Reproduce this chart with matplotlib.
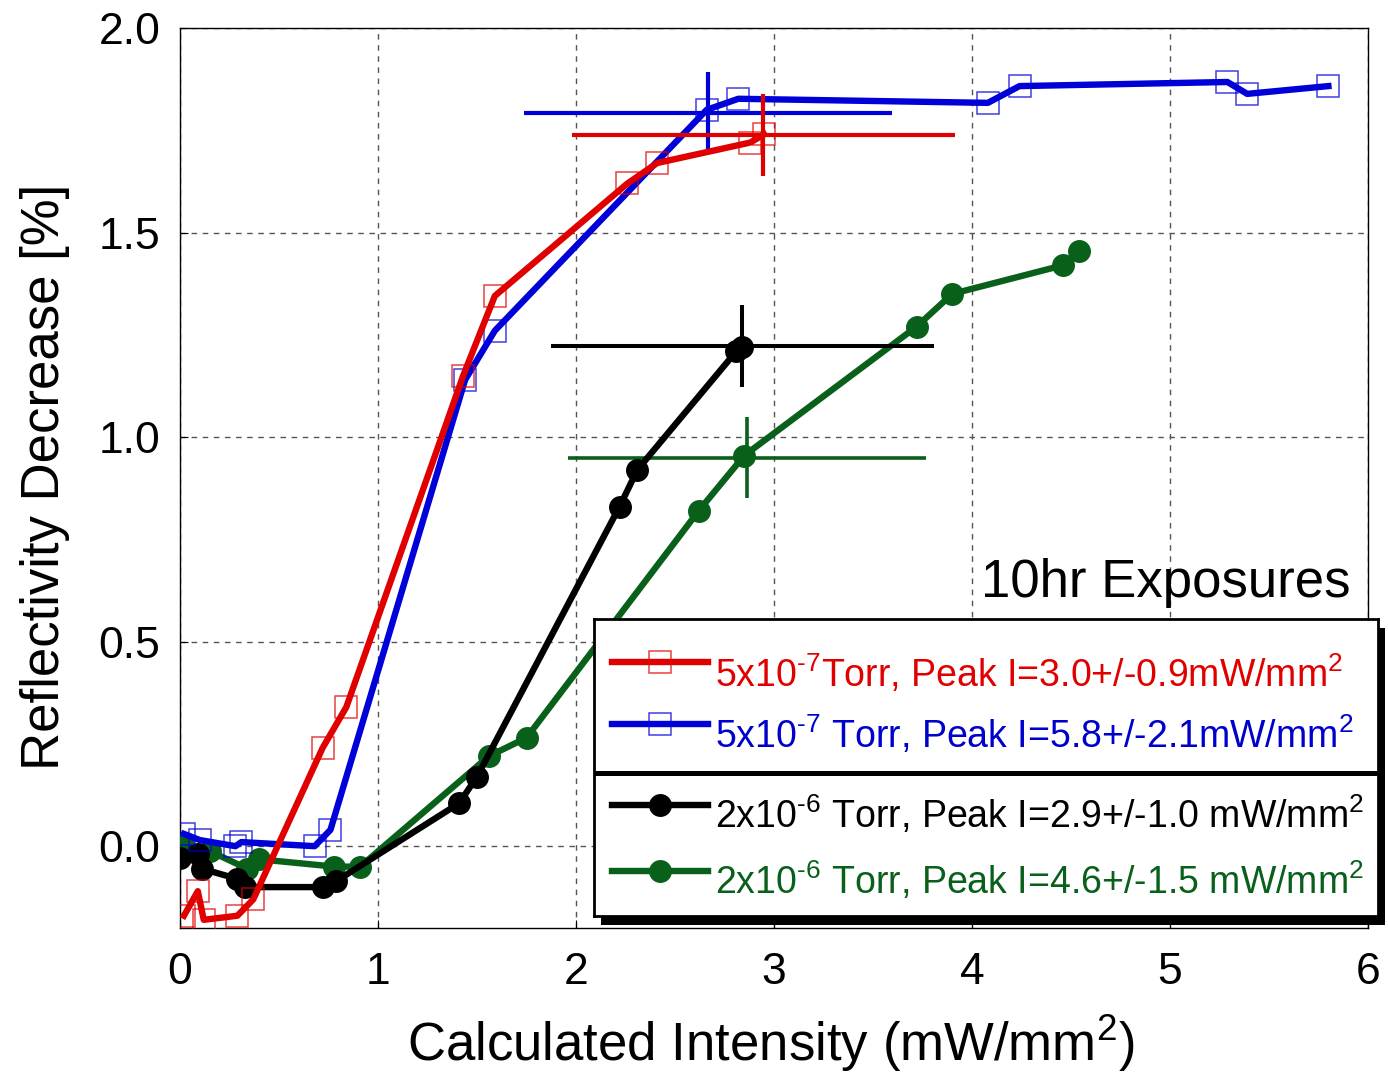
import matplotlib
matplotlib.use('Agg')
import matplotlib.pyplot as plt
from matplotlib.patches import Rectangle
from matplotlib.lines import Line2D

plt.rcParams['font.family'] = ['Liberation Sans', 'DejaVu Sans']
plt.rcParams['mathtext.fontset'] = 'custom'
plt.rcParams['mathtext.rm'] = 'Liberation Sans'
plt.rcParams['mathtext.it'] = 'Liberation Sans:italic'
plt.rcParams['mathtext.bf'] = 'Liberation Sans:bold'

# 5x10^-7 Torr, 3.0 mW/mm2 run
red_x = [0.02, 0.09, 0.12, 0.29, 0.37, 0.72, 0.84, 1.43, 1.59, 2.26, 2.41, 2.88, 2.95]
red_y = [-0.17, -0.11, -0.18, -0.17, -0.13, 0.24, 0.34, 1.15, 1.345, 1.62, 1.67, 1.72, 1.74]

# 5x10^-7 Torr, 5.8 mW/mm2 run
blue_x = [0.02, 0.10, 0.28, 0.31, 0.68, 0.76, 1.44, 1.59, 2.66, 2.82, 4.08, 4.24, 5.29, 5.39, 5.80]
blue_y = [0.03, 0.015, 0.0, 0.01, 0.0, 0.04, 1.14, 1.26, 1.80, 1.827, 1.817, 1.858, 1.868, 1.839, 1.858]

# 2x10^-6 Torr, 2.9 mW/mm2 run
black_x = [0.0, 0.09, 0.11, 0.29, 0.33, 0.72, 0.79, 1.41, 1.50, 2.22, 2.31, 2.81, 2.84]
black_y = [-0.03, -0.02, -0.055, -0.08, -0.10, -0.10, -0.085, 0.105, 0.17, 0.83, 0.92, 1.21, 1.22]

# 2x10^-6 Torr, 4.6 mW/mm2 run
green_x = [0.015, 0.15, 0.34, 0.40, 0.78, 0.91, 1.56, 1.75, 2.62, 2.85, 3.72, 3.90, 4.46, 4.54]
green_y = [0.005, -0.012, -0.055, -0.032, -0.05, -0.05, 0.22, 0.265, 0.82, 0.955, 1.27, 1.35, 1.42, 1.455]

# peak intensity error crosses: x, y, xerr, yerr
red_err = [2.945, 1.739, 0.967, 0.10]
blue_err = [2.667, 1.792, 0.93, 0.10]
black_err = [2.84, 1.223, 0.967, 0.10]
green_err = [2.864, 0.95, 0.906, 0.10]

legend_labels = [
    r'5x10$^{\mathrm{\text{-}7}}$Torr, Peak I=3.0+/-0.9mW/mm$^{\mathrm{2}}$',
    r'5x10$^{\mathrm{\text{-}7}}$ Torr, Peak I=5.8+/-2.1mW/mm$^{\mathrm{2}}$',
    r'2x10$^{\mathrm{\text{-}6}}$ Torr, Peak I=2.9+/-1.0 mW/mm$^{\mathrm{2}}$',
    r'2x10$^{\mathrm{\text{-}6}}$ Torr, Peak I=4.6+/-1.5 mW/mm$^{\mathrm{2}}$',
]

RED = '#e00000'
BLUE = '#0000d8'
BLACK = '#000000'
GREEN = '#08601a'
LW = 4.6

fig = plt.figure(figsize=(13.88, 10.73), dpi=100)
ax = fig.add_axes([180/1388, 1-928/1073, 1188/1388, 900/1073])
ax.set_zorder(1)

ax.plot(green_x, green_y, color=GREEN, lw=LW, marker='o', ms=15.5, zorder=3)
ax.plot(black_x, black_y, color=BLACK, lw=LW, marker='o', ms=15.5, zorder=4)
ax.plot(blue_x, blue_y, color=BLUE, lw=LW, zorder=5)
ax.plot(blue_x, blue_y, ls='none', marker='s', ms=16, mfc='none', mec=BLUE, mew=1.1, alpha=0.75, zorder=5)
ax.plot(red_x, red_y, color=RED, lw=LW, zorder=6)
ax.plot(red_x, red_y, ls='none', marker='s', ms=16, mfc='none', mec=RED, mew=1.1, alpha=0.75, zorder=6)

ax.errorbar(green_err[0], green_err[1], xerr=green_err[2], yerr=green_err[3], fmt='none', ecolor=GREEN, elinewidth=2.6, capsize=0, zorder=3)
ax.errorbar(black_err[0], black_err[1], xerr=black_err[2], yerr=black_err[3], fmt='none', ecolor=BLACK, elinewidth=2.9, capsize=0, zorder=4)
ax.errorbar(blue_err[0], blue_err[1], xerr=blue_err[2], yerr=blue_err[3], fmt='none', ecolor=BLUE, elinewidth=3.0, capsize=0, zorder=5)
ax.errorbar(red_err[0], red_err[1], xerr=red_err[2], yerr=red_err[3], fmt='none', ecolor=RED, elinewidth=3.0, capsize=0, zorder=6)

ax.set_xlim(0, 6)
ax.set_ylim(-0.2, 2.0)
ax.set_xticks([0, 1, 2, 3, 4, 5, 6])
ax.set_yticks([0.0, 0.5, 1.0, 1.5, 2.0])
ax.set_yticklabels(['0.0', '0.5', '1.0', '1.5', '2.0'])
ax.grid(True, color='#555555', ls=(0, (4, 4)), lw=1.0)
ax.tick_params(direction='in', length=6, width=0.8, labelsize=32)
ax.tick_params(axis='y', pad=14)
ax.tick_params(axis='x', pad=17)
for s in ax.spines.values():
    s.set_linewidth(1.0)

ax.set_xlabel(r'Calculated Intensity (mW/mm$^{\mathrm{2}}$)', fontsize=38)
ax.set_ylabel('Reflectivity Decrease [%]', fontsize=38)
ax.xaxis.set_label_coords(0.4975, -0.094)
ax.yaxis.set_label_coords(-0.093, 0.501)

ax.text(5.91, 0.61, '10hr Exposures', fontsize=38, ha='right', va='baseline', zorder=7)

# legend box with shadow and divider
box = [594, 619, 1378, 916]
W, H = 1388, 1073
shadow = Rectangle(((box[0]+7)/W, 1-(box[3]+9)/H), (box[2]-box[0])/W, (box[3]-box[1])/H,
                   transform=fig.transFigure, facecolor='black', edgecolor='none', zorder=2)
fig.add_artist(shadow)
lax = fig.add_axes([box[0]/W, 1-box[3]/H, (box[2]-box[0])/W, (box[3]-box[1])/H])
lax.set_zorder(3)
lax.set_xlim(box[0], box[2])
lax.set_ylim(box[3], box[1])
lax.set_xticks([])
lax.set_yticks([])
for s in lax.spines.values():
    s.set_linewidth(2.0)
lax.axhline(773, color='black', lw=3.6)

rows = [662, 724, 805, 871]
bases = [687, 748, 828, 894]
styles = [(RED, 's'), (BLUE, 's'), (BLACK, 'o'), (GREEN, 'o')]
text_colors = [RED, '#0000cc', BLACK, GREEN]
for (col, mk), ry, by, lab, tc in zip(styles, rows, bases, legend_labels, text_colors):
    lax.add_line(Line2D([612, 708], [ry, ry], color=col, lw=LW))
    if mk == 's':
        lax.add_line(Line2D([660], [ry], ls='none', marker='s', ms=16, mfc='none', mec=col, mew=1.1, alpha=0.75))
    else:
        lax.add_line(Line2D([660], [ry], ls='none', marker='o', ms=15.5, color=col))
    lax.text(715, by, lab, fontsize=27, color=tc, ha='left', va='baseline')

fig.savefig('out.png', dpi=100)
